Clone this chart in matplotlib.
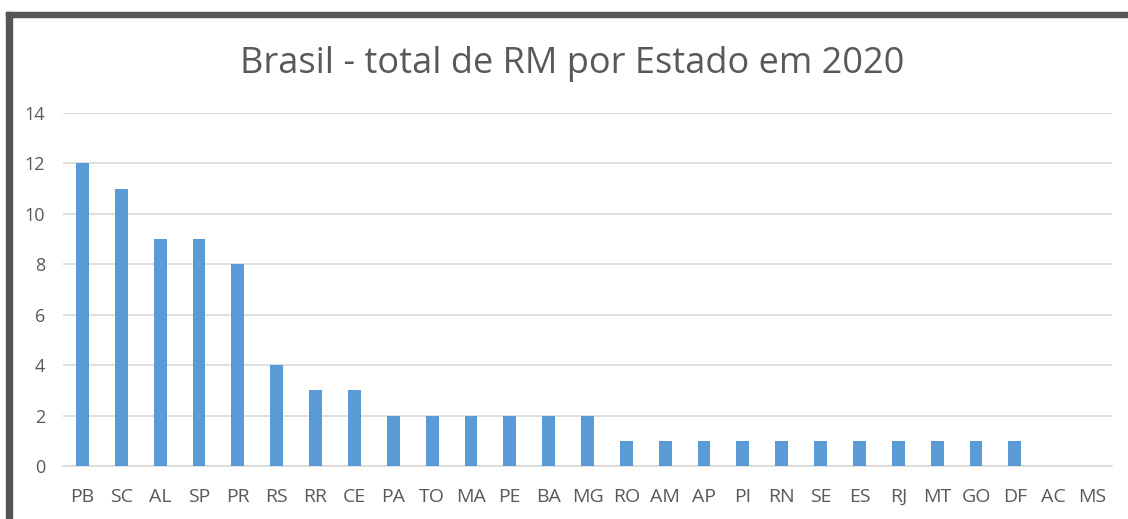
import numpy as np
import matplotlib
matplotlib.use("Agg")
from matplotlib import pyplot as plt
from matplotlib.patches import Rectangle

# data
estados = ['PB', 'SC', 'AL', 'SP', 'PR', 'RS', 'RR', 'CE', 'PA', 'TO', 'MA', 'PE', 'BA', 'MG',
           'RO', 'AM', 'AP', 'PI', 'RN', 'SE', 'ES', 'RJ', 'MT', 'GO', 'DF', 'AC', 'MS']
total_rm = [12, 11, 9, 9, 8, 4, 3, 3, 2, 2, 2, 2, 2, 2,
            1, 1, 1, 1, 1, 1, 1, 1, 1, 1, 1, 0, 0]
y_ticks = [0, 2, 4, 6, 8, 10, 12, 14]

plt.rcParams['font.family'] = ['Open Sans', 'DejaVu Sans']

W, H = 1128, 519
fig = plt.figure(figsize=(W / 100, H / 100), dpi=100)
ax = fig.add_axes([63 / W, 53 / H, (1112 - 63) / W, (466 - 113) / H])

x = np.arange(len(estados))
ax.bar(x, total_rm, width=0.33, color='#5B9BD5', zorder=3)

ax.set_xlim(-0.5, len(estados) - 0.5)
ax.set_ylim(0, 14)
ax.set_yticks(y_ticks)
ax.set_xticks(x)
ax.set_xticklabels(estados)
ax.tick_params(axis='both', length=0, colors='#595959')
ax.tick_params(axis='x', pad=16, labelsize=14)
ax.tick_params(axis='y', pad=13, labelsize=13)
ax.grid(axis='y', color='#D9D9D9', linewidth=1.2, zorder=0)
for s in ['top', 'right', 'left']:
    ax.spines[s].set_visible(False)
ax.spines['bottom'].set_color('#D9D9D9')
ax.spines['bottom'].set_linewidth(1.2)

fig.text(572 / W, 1 - 73 / H, 'Brasil - total de RM por Estado em 2020',
         ha='center', va='baseline', fontsize=26, color='#595959')

# dark frame on top and left, like the screenshot
fig.patches.append(Rectangle((6 / W, 1 - 17 / H), 1, 5 / H, transform=fig.transFigure,
                             color='#555555', zorder=10))
fig.patches.append(Rectangle((6 / W, 0), 6 / W, 1 - 12 / H, transform=fig.transFigure,
                             color='#555555', zorder=10))

plt.savefig('out.png', dpi=100)
plt.close()
